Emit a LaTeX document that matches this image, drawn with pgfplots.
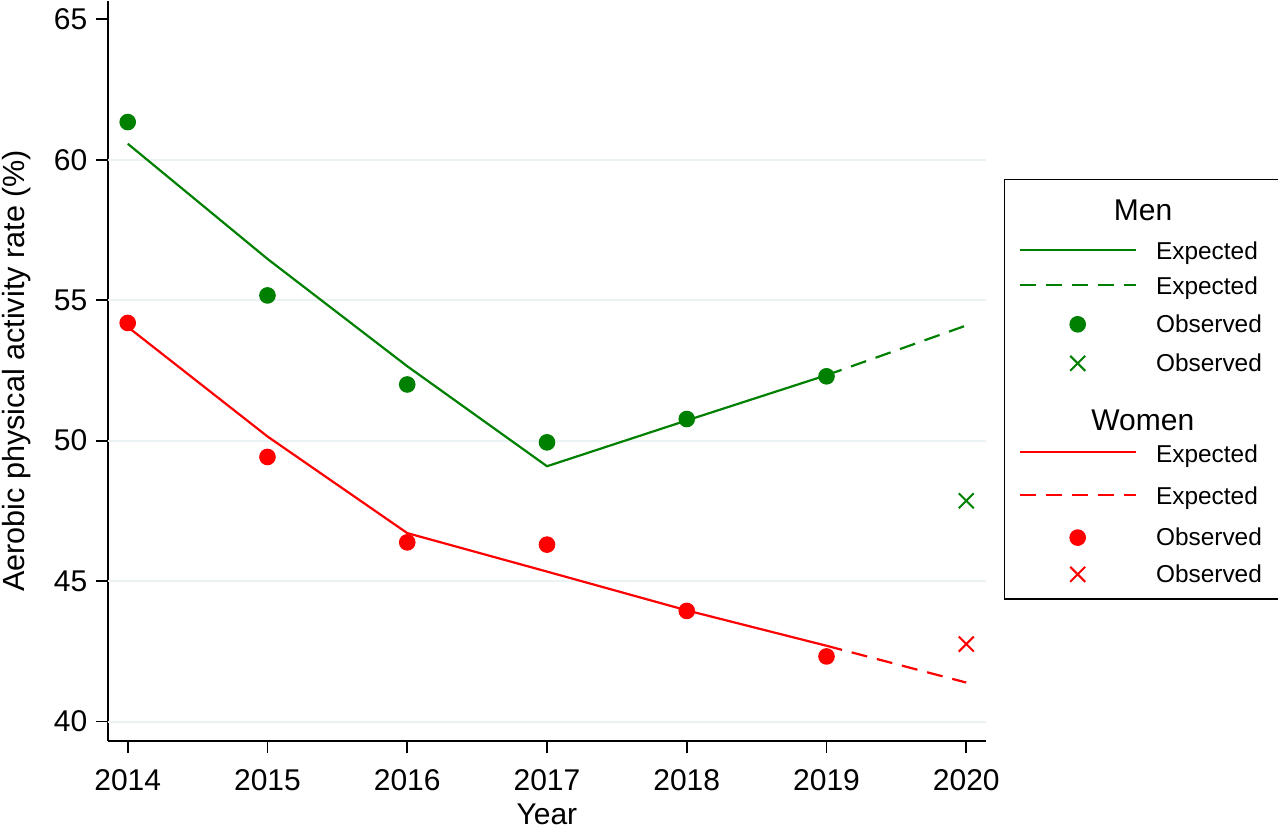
\documentclass[border=0pt]{standalone}
\usepackage{fontspec}
\setmainfont{Liberation Sans}
\usepackage{pgfplots}
\pgfplotsset{compat=1.18}
\definecolor{sgreen}{RGB}{0,128,0}
\definecolor{sred}{RGB}{255,0,0}
\definecolor{sgrid}{RGB}{234,242,243}
\pgfplotsset{
  legline/.style={legend image code/.code={\draw[##1] (0pt,5pt) -- (58pt,5pt);}},
  legmark/.style={legend image code/.code={\draw[##1] plot[only marks] coordinates {(29pt,4pt)};}},
}
\tikzset{
  lt/.style 2 args={anchor=base west, inner sep=0pt, text height=#1, text depth=#2,
    text width=54.6pt, align=left, font=\fontsize{12.2}{14}\selectfont},
  ltitle/.style={font=\fontsize{15}{18}\selectfont},
}
\begin{document}
\begin{tikzpicture}
\begin{axis}[
  scale only axis, width=438.85pt, height=370.15pt,
  xmin=2013.859, xmax=2020.139, ymin=39.31, ymax=65.66,
  axis x line*=bottom, axis y line*=left,
  axis line style={line width=0.85pt, -, black},
  tick style={line width=0.85pt, black},
  tick align=outside, major tick length=6pt,
  xtick={2014,2015,2016,2017,2018,2019,2020},
  ytick={40,45,50,55,60,65},
  minor tick num=0,
  /pgf/number format/assume math mode=true,
  xticklabel style={/pgf/number format/1000 sep=, anchor=base, inner sep=0pt, yshift=-18.5pt, font=\fontsize{15}{18}\selectfont},
  yticklabel style={anchor=east, inner sep=0pt, xshift=-4.2pt, font=\fontsize{15}{18}\selectfont},
  extra y ticks={40,45,50,55,60},
  extra y tick labels={},
  extra y tick style={grid=major, major tick length=0pt, major grid style={sgrid, line width=1pt}},
  xlabel={Year},
  ylabel={Aerobic physical activity rate (\%)},
  every axis x label/.style={at={([yshift=-41.5pt]axis description cs:0.5,0)}, anchor=base, inner sep=0pt, font=\fontsize{15}{18}\selectfont},
  every axis y label/.style={at={([xshift=-41.6pt]axis description cs:0,0.5)}, anchor=base, rotate=90, inner sep=0pt, font=\fontsize{15.3}{18}\selectfont},
  legend style={at={(1.02085,0.75875)}, anchor=north west, draw=black, line width=0.6pt,
    inner xsep=7pt, inner ysep=0pt, column sep=9.65pt, row sep=0pt},
  clip=false,
]
% Expected lines
\addplot[forget plot, sgreen, line width=1.1pt] coordinates {(2014,60.57) (2015,56.47) (2016,52.65) (2017,49.09) (2018,50.72) (2019,52.33)};
\addplot[forget plot, sgreen, line width=1.1pt, dash pattern=on 8pt off 5pt] coordinates {(2019,52.33) (2020,54.10)};
\addplot[forget plot, sred, line width=1.1pt] coordinates {(2014,54.05) (2015,50.15) (2016,46.71) (2017,45.34) (2018,43.96) (2019,42.70)};
\addplot[forget plot, sred, line width=1.1pt, dash pattern=on 8pt off 5pt] coordinates {(2019,42.70) (2020,41.39)};
% Observed
\addplot[forget plot, only marks, mark=*, mark size=3.9pt, sgreen, line width=0.5pt, mark options={fill=sgreen, draw=sgreen}] coordinates {(2014,61.34) (2015,55.17) (2016,52.00) (2017,49.94) (2018,50.77) (2019,52.29)};
\addplot[forget plot, only marks, mark=x, mark size=5.3pt, sgreen, line width=1pt] coordinates {(2020,47.86)};
\addplot[forget plot, only marks, mark=*, mark size=3.9pt, sred, line width=0.5pt, mark options={fill=sred, draw=sred}] coordinates {(2014,54.19) (2015,49.42) (2016,46.38) (2017,46.30) (2018,43.94) (2019,42.32)};
\addplot[forget plot, only marks, mark=x, mark size=5.3pt, sred, line width=1pt] coordinates {(2020,42.76)};
% Legend
\addlegendimage{empty legend}
\addlegendentry[lt={20.35pt}{9.65pt}, ltitle]{\hspace*{-21.1pt}Men}
\addlegendimage{legline, sgreen, line width=1.1pt}
\addlegendentry[lt={10pt}{7.35pt}]{Expected}
\addlegendimage{legline, sgreen, line width=1.1pt, dash pattern=on 8pt off 5pt}
\addlegendentry[lt={10pt}{8.85pt}]{Expected}
\addlegendimage{legmark, sgreen, mark=*, mark size=3.9pt, line width=0.5pt, mark options={fill=sgreen, draw=sgreen}}
\addlegendentry[lt={10pt}{9.5pt}]{Observed}
\addlegendimage{legmark, sgreen, mark=x, mark size=5.3pt, line width=1pt}
\addlegendentry[lt={10pt}{19.65pt}]{Observed}
\addlegendimage{empty legend}
\addlegendentry[lt={10pt}{5.85pt}, ltitle]{\hspace*{-32.35pt}Women}
\addlegendimage{legline, sred, line width=1.1pt}
\addlegendentry[lt={10pt}{11.15pt}]{Expected}
\addlegendimage{legline, sred, line width=1.1pt, dash pattern=on 8pt off 5pt}
\addlegendentry[lt={10pt}{10.5pt}]{Expected}
\addlegendimage{legmark, sred, mark=*, mark size=3.9pt, line width=0.5pt, mark options={fill=sred, draw=sred}}
\addlegendentry[lt={10pt}{8.35pt}]{Observed}
\addlegendimage{legmark, sred, mark=x, mark size=5.3pt, line width=1pt}
\addlegendentry[lt={10pt}{8.3pt}]{Observed}
\end{axis}
\pgfresetboundingbox
\path[use as bounding box] (-54pt,-44.5pt) rectangle (585pt,370.5pt);
\end{tikzpicture}
\end{document}
